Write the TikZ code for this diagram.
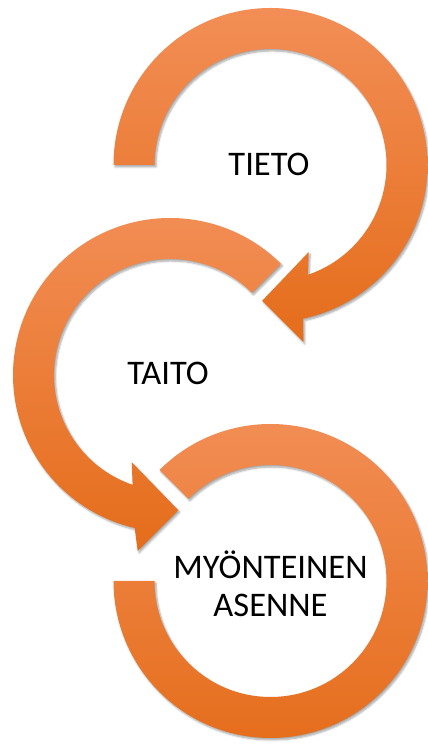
\documentclass[tikz,border=0pt]{standalone}
\usepackage{fontspec}
\setmainfont{Carlito}
\usepackage{tikz}
\usetikzlibrary{calc, positioning, shadows.blur}
\definecolor{ringtop}{HTML}{F28E56}
\definecolor{ringbot}{HTML}{E56D1B}

\begin{document}
\begin{tikzpicture}[
        x=1pt, y=1pt,
        ring/.style = {top color=ringtop, bottom color=ringbot, draw=none,
            blur shadow={shadow xshift=1.5pt, shadow yshift=-2pt, shadow blur steps=6, shadow opacity=35}},
        label/.style = {align=center, font=\fontsize{34.5}{38}\selectfont, text=black}
    ]
        \useasboundingbox (0,0) rectangle (428,744);

        % Centres
        \coordinate (c1) at (270.5,579);
        \coordinate (c2) at (170,369);
        \coordinate (c3) at (270.5,163);

        % Arrow 1
        \begin{scope}[shift={(c1)}]
            \path[ring] (180:157) arc[start angle=180, end angle=-78, radius=157]
                -- (-79.5:180) -- (-93.5:136) -- (-66.3:95) -- (-71.3:116)
                arc[start angle=-71.3, end angle=180, radius=116] -- cycle;
        \end{scope}

        % Arrow 2
        \begin{scope}[shift={(c2)}]
            \path[ring] (45:157) arc[start angle=45, end angle=257, radius=157]
                -- (259.6:179) -- (273.5:135.5) -- (246.3:95.3) -- (251.2:116)
                arc[start angle=251.2, end angle=45, radius=116] -- cycle;
        \end{scope}

        % Ring 3
        \begin{scope}[shift={(c3)}]
            \path[ring] (135:157) arc[start angle=135, end angle=-180, radius=157]
                -- (180:116) arc[start angle=-180, end angle=135, radius=116] -- cycle;
        \end{scope}

        % Labels
        \node (tieto) [label] at ($(c1)+(-1.5,1)$) {TIETO};
        \node (taito) [label] at ($(c2)+(-2,2)$) {TAITO};
        \node (asenne) [label] at ($(c3)+(0,-3)$) {MYÖNTEINEN\\ASENNE};

\end{tikzpicture}
\end{document}
